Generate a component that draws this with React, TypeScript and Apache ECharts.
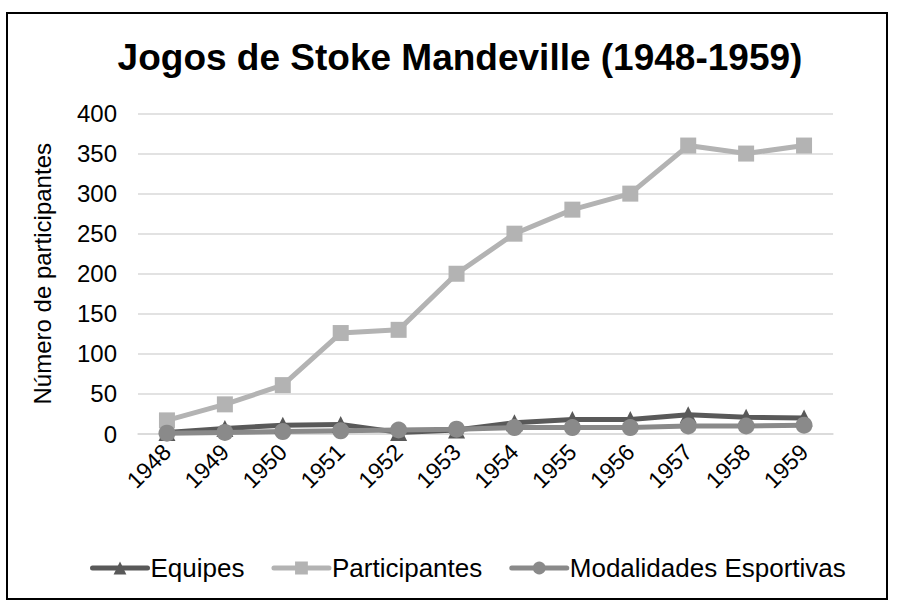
import React, { useEffect, useRef } from "react";
import * as echarts from "echarts";

const years = ["1948", "1949", "1950", "1951", "1952", "1953", "1954", "1955", "1956", "1957", "1958", "1959"];
const equipes = [2, 7, 11, 12, 2, 5, 14, 18, 18, 24, 21, 20];
const participantes = [17, 37, 61, 126, 130, 200, 250, 280, 300, 360, 350, 360];
const modalidades = [1, 2, 3, 4, 5, 6, 8, 8, 8, 10, 10, 11];
const yTicks = { min: 0, max: 400, interval: 50 };
const titleText = "Jogos de Stoke Mandeville (1948-1959)";

const FONT = "Liberation Sans, Arial, sans-serif";

export default function App() {
  const ref = useRef<HTMLDivElement>(null);
  useEffect(() => {
    if (!ref.current) return;
    const chart = echarts.init(ref.current, undefined, { renderer: "svg" });
    const mk = (name: string, data: number[], color: string, symbol: string, size: number) => ({
      name,
      type: "line",
      data,
      symbol,
      symbolSize: size,
      showSymbol: true,
      lineStyle: { color, width: 5, cap: "round" },
      itemStyle: { color },
      emphasis: { disabled: true },
    });
    chart.setOption({
      animation: false,
      textStyle: { fontFamily: FONT },
      graphic: [
        {
          type: "rect",
          shape: { x: 7, y: 13, width: 880, height: 586 },
          style: { fill: "none", stroke: "#000", lineWidth: 2 },
          silent: true,
        },
        {
          type: "text",
          x: 460,
          y: 57,
          style: {
            text: titleText,
            font: "bold 37px Liberation Sans, Arial, sans-serif",
            fill: "#000",
            textAlign: "center",
            textVerticalAlign: "middle",
          },
          silent: true,
        },
      ],
      grid: { left: 138, right: 67, top: 113.5, bottom: 176 },
      xAxis: {
        type: "category",
        data: years,
        boundaryGap: true,
        axisLine: { show: true, lineStyle: { color: "#d9d9d9", width: 1.5 } },
        axisTick: { show: false },
        axisLabel: { rotate: 45, fontSize: 23, color: "#000", fontFamily: FONT, margin: 14 },
      },
      yAxis: {
        type: "value",
        min: yTicks.min,
        max: yTicks.max,
        interval: yTicks.interval,
        name: "Número de participantes",
        nameLocation: "middle",
        nameGap: 84,
        nameTextStyle: { fontSize: 24, color: "#000", fontFamily: FONT },
        axisLine: { show: false },
        axisTick: { show: false },
        axisLabel: { fontSize: 24, color: "#000", fontFamily: FONT, margin: 21 },
        splitLine: { lineStyle: { color: "#d9d9d9", width: 1.5 } },
      },
      legend: {
        top: 550,
        left: 85,
        itemWidth: 55,
        itemHeight: 16,
        itemGap: 27,
        lineStyle: { width: 5, cap: "round" },
        textStyle: { fontSize: 26, color: "#000", fontFamily: FONT, padding: [0, 0, 0, -2] },
        data: ["Equipes", "Participantes", "Modalidades Esportivas"],
      },
      series: [
        mk("Equipes", equipes, "#595959", "triangle", 17),
        mk("Participantes", participantes, "#b3b3b3", "rect", 16),
        mk("Modalidades Esportivas", modalidades, "#8a8a8a", "circle", 17),
      ],
    });
    return () => chart.dispose();
  }, []);
  return <div ref={ref} style={{ position: "fixed", left: 0, top: 0, width: 900, height: 610, background: "#fff" }} />;
}
